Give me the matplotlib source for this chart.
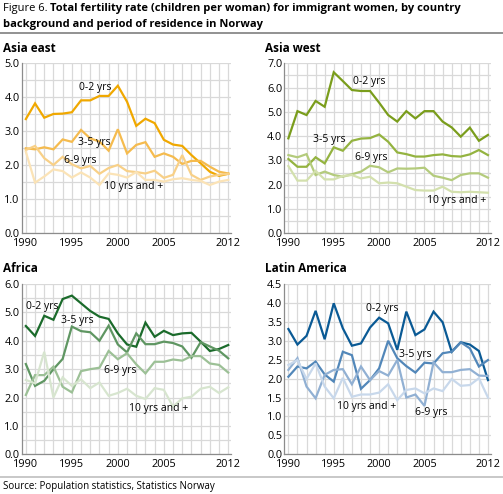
import matplotlib.pyplot as plt
from matplotlib.ticker import MultipleLocator, FixedLocator

years = list(range(1990, 2013))
groups = ["0-2 yrs", "3-5 yrs", "6-9 yrs", "10 yrs and +"]

asia_east_02 = [3.36, 3.82, 3.40, 3.51, 3.52, 3.56, 3.91, 3.91, 4.04, 4.04, 4.34, 3.87,
                3.16, 3.37, 3.24, 2.75, 2.61, 2.57, 2.30, 2.06, 1.81, 1.69, 1.75]
asia_east_35 = [2.50, 2.47, 2.53, 2.47, 2.76, 2.69, 3.04, 2.79, 2.70, 2.43, 3.06, 2.35,
                2.60, 2.68, 2.25, 2.35, 2.25, 2.04, 2.13, 2.13, 1.96, 1.81, 1.76]
asia_east_69 = [2.45, 2.57, 2.21, 2.01, 2.25, 2.03, 1.91, 1.98, 1.75, 1.92, 2.01, 1.83,
                1.80, 1.76, 1.84, 1.63, 1.72, 2.30, 1.72, 1.57, 1.67, 1.72, 1.75]
asia_east_10 = [2.40, 1.49, 1.67, 1.88, 1.83, 1.64, 1.79, 1.64, 1.42, 1.76, 1.72, 1.64,
                1.80, 1.57, 1.57, 1.52, 1.59, 1.62, 1.57, 1.54, 1.42, 1.52, 1.57]

asia_west_02 = [3.91, 5.03, 4.87, 5.45, 5.21, 6.63, 6.27, 5.90, 5.86, 5.86, 5.38, 4.87,
                4.60, 5.03, 4.73, 5.03, 5.03, 4.60, 4.36, 3.98, 4.35, 3.81, 4.05]
asia_west_35 = [3.06, 2.74, 2.74, 3.13, 2.88, 3.54, 3.40, 3.81, 3.90, 3.92, 4.07, 3.77,
                3.33, 3.26, 3.16, 3.16, 3.22, 3.25, 3.18, 3.16, 3.25, 3.43, 3.22]
asia_west_69 = [3.22, 3.13, 3.26, 2.40, 2.54, 2.40, 2.33, 2.43, 2.54, 2.78, 2.72, 2.51,
                2.67, 2.66, 2.67, 2.70, 2.37, 2.29, 2.19, 2.40, 2.47, 2.47, 2.29]
asia_west_10 = [2.77, 2.17, 2.17, 2.57, 2.22, 2.22, 2.36, 2.40, 2.26, 2.33, 2.06, 2.09,
                2.06, 1.92, 1.78, 1.76, 1.76, 1.92, 1.71, 1.69, 1.71, 1.69, 1.67]

africa_02 = [4.52, 4.17, 4.88, 4.74, 5.47, 5.59, 5.32, 5.05, 4.85, 4.77, 4.26, 3.87,
             3.79, 4.64, 4.14, 4.35, 4.20, 4.26, 4.28, 3.97, 3.64, 3.71, 3.85]
africa_35 = [3.18, 2.41, 2.59, 3.00, 3.36, 4.50, 4.34, 4.30, 4.00, 4.53, 3.87, 3.59,
             4.26, 3.88, 3.88, 3.97, 3.92, 3.80, 3.40, 3.95, 3.80, 3.65, 3.38]
africa_69 = [2.09, 2.79, 2.79, 3.09, 2.38, 2.18, 2.93, 3.00, 3.05, 3.64, 3.35, 3.56,
             3.17, 2.85, 3.26, 3.26, 3.34, 3.30, 3.46, 3.46, 3.20, 3.15, 2.88]
africa_10 = [2.62, 2.50, 3.61, 2.00, 2.71, 2.41, 2.64, 2.33, 2.53, 2.06, 2.16, 2.31,
             2.06, 1.95, 2.33, 2.27, 1.68, 1.97, 2.03, 2.31, 2.38, 2.16, 2.36]

latin_02 = [3.31, 2.90, 3.13, 3.79, 3.04, 3.99, 3.33, 2.87, 2.93, 3.35, 3.61, 3.46,
            2.76, 3.77, 3.15, 3.30, 3.77, 3.49, 2.71, 2.96, 2.90, 2.73, 1.96]
latin_35 = [2.05, 2.32, 2.27, 2.45, 2.11, 1.92, 2.71, 2.62, 1.73, 1.96, 2.27, 3.00,
            2.54, 2.33, 2.16, 2.42, 2.40, 2.67, 2.71, 2.96, 2.80, 2.32, 2.49]
latin_69 = [2.23, 2.54, 1.79, 1.48, 2.10, 2.23, 2.25, 1.85, 2.32, 1.96, 2.20, 2.08,
            2.49, 1.50, 1.58, 1.28, 2.43, 2.17, 2.17, 2.23, 2.25, 2.08, 2.07]
latin_10 = [2.36, 2.49, 1.99, 2.40, 1.79, 1.48, 2.02, 1.52, 1.58, 1.58, 1.63, 1.85,
            1.43, 1.70, 1.74, 1.61, 1.74, 1.67, 1.99, 1.81, 1.83, 2.01, 1.50]

panels = [
    ("Asia east", [asia_east_02, asia_east_35, asia_east_69, asia_east_10],
     ["#f0a800", "#f5bb4e", "#f8d087", "#fbe3b6"], 5.0, 1.0,
     [(1997.5, 4.29), (1997.4, 2.67), (1995.9, 2.14), (2001.7, 1.39)]),
    ("Asia west", [asia_west_02, asia_west_35, asia_west_69, asia_west_10],
     ["#7a9d1c", "#94b340", "#b4cb7c", "#d3e0ad"], 7.0, 1.0,
     [(1998.9, 6.24), (1994.5, 3.87), (1999.1, 3.11), (2008.5, 1.34)]),
    ("Africa", [africa_02, africa_35, africa_69, africa_10],
     ["#1b6b2b", "#5f9662", "#9cc096", "#d7e5cf"], 6.0, 1.0,
     [(1991.8, 5.22), (1995.55, 4.73), (2000.3, 2.97), (2004.45, 1.62)]),
    ("Latin America", [latin_02, latin_35, latin_69, latin_10],
     ["#0a5a95", "#5287b9", "#91b0d3", "#c8d8eb"], 4.5, 0.5,
     [(2000.4, 3.86), (2004.0, 2.64), (2005.8, 1.10), (1998.6, 1.26)]),
]

plt.rcParams['font.family'] = ['Open Sans', 'DejaVu Sans']

fig = plt.figure(figsize=(5.03, 4.94), dpi=100)

# axes boxes in pixels: left, top, right, bottom
boxes = [(21.7, 63.3, 231.0, 233.3), (284.3, 63.3, 490.7, 233.3),
         (21.7, 284.0, 231.0, 454.3), (284.3, 284.0, 490.7, 454.3)]
W, H = 503, 494

for (title, series, colors, ymax, ystep, labels), (l, t, r, b) in zip(panels, boxes):
    ax = fig.add_axes([l / W, 1 - b / H, (r - l) / W, (b - t) / H])
    for vals, c in zip(series, colors):
        ax.plot(years, vals, color=c, lw=1.6, solid_joinstyle='miter')
    for (lx, ly), g in zip(labels, groups):
        ax.text(lx, ly, g, fontsize=7.5, ha='center', va='center', color='black')
    ax.set_xlim(1989.55, 2012.3)
    ax.set_ylim(0, ymax)
    ax.xaxis.set_major_locator(FixedLocator([1990, 1995, 2000, 2005, 2012]))
    ax.xaxis.set_minor_locator(MultipleLocator(1))
    ax.yaxis.set_major_locator(MultipleLocator(ystep))
    ax.yaxis.set_minor_locator(MultipleLocator(0.5))
    ax.set_yticklabels([f"{v:.1f}" for v in ax.get_yticks()])
    ax.grid(which='both', color='#d9d9d9', lw=0.9)
    ax.set_axisbelow(True)
    ax.tick_params(which='both', length=0, labelsize=7.8, colors='black')
    ax.tick_params(axis='y', pad=1.5)
    ax.tick_params(axis='x', pad=3.5)
    for s in ['top', 'right']:
        ax.spines[s].set_visible(False)
    for s in ['left', 'bottom']:
        ax.spines[s].set_color('#8c8c8c')
        ax.spines[s].set_linewidth(0.9)
    fig.text((l - 19) / W, 1 - (t - 15) / H, title, fontsize=8.5, fontweight='bold',
             ha='left', va='center')

fig.text(3 / W, 1 - 9 / H, "Figure 6. ", fontsize=8, ha='left', va='center')
fig.text(50 / W, 1 - 9 / H, "Total fertility rate (children per woman) for immigrant women, by country",
         fontsize=8, fontweight='bold', ha='left', va='center')
fig.text(3 / W, 1 - 24 / H, "background and period of residence in Norway",
         fontsize=8, fontweight='bold', ha='left', va='center')
fig.add_artist(plt.Line2D([0, 1], [1 - 33 / H, 1 - 33 / H], color='#7f7f7f', lw=1.2))
fig.add_artist(plt.Line2D([0, 1], [1 - 477 / H, 1 - 477 / H], color='#bfbfbf', lw=1.2))
fig.text(3 / W, 1 - 486 / H, "Source: Population statistics, Statistics Norway",
         fontsize=7, ha='left', va='center')

fig.savefig("out.png", dpi=100)
